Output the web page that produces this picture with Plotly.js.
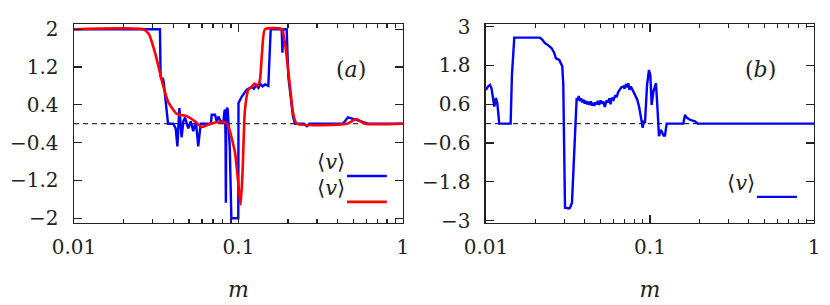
<!DOCTYPE html>
<html>
<head>
<meta charset="utf-8">
<script src="https://cdn.plot.ly/plotly-3.0.1.min.js"></script>
<style>html,body{margin:0;padding:0;background:#fff;}#chart{width:830px;height:305px;}</style>
</head>
<body>
<div id="chart"></div>
<script>
// ---- Panel (a): blue series ----
const aBlueM = [0.01,0.0333,0.0336,0.0342,0.0347,0.0352,0.0360,0.0368,0.0373,0.0401,0.0415,0.0425,0.0437,0.0451,0.0462,0.0473,0.0495,0.0512,0.0531,0.0551,0.0569,0.0589,0.0680,0.0687,0.0720,0.0737,0.0755,0.0772,0.0808,0.0820,0.0828,0.0834,0.0838,0.0842,0.0852,0.0860,0.0868,0.0885,0.0905,0.0997,0.1000,0.1045,0.1122,0.120,0.124,0.128,0.132,0.136,0.140,0.145,0.1518,0.1540,0.157,0.183,0.1850,0.1870,0.1963,0.2008,0.2145,0.2206,0.2500,0.2609,0.2700,0.4317,0.4630,0.5200,0.6128,1.0];
const aBlueV = [2,2,1.0,0.93,0.97,0.85,0.5,0.2,0,0,-0.1,-0.48,0.33,-0.29,0.05,0.13,-0.1,0.05,-0.16,0.05,-0.48,0,0,0.19,0.19,0.05,0.15,0.08,0.0,0.25,0.3,-0.3,-1.67,0.1,0.34,0.3,0.1,-0.5,-2.0,-2.0,0.44,0.57,0.72,0.78,0.74,0.82,0.76,0.84,0.79,0.83,0.8,1.4,2.0,2.0,1.5,2.0,2.0,1.0,0.15,0,0,-0.05,0,0,0.135,0.08,0,0];
// ---- Panel (a): red series ----
const aRedM = [0.01,0.0263,0.0285,0.0311,0.0349,0.0375,0.0421,0.0484,0.0544,0.0598,0.0653,0.0737,0.0828,0.0867,0.0952,0.1031,0.106,0.1085,0.1106,0.1147,0.120,0.125,0.130,0.1319,0.1351,0.139,0.1449,0.1831,0.1917,0.2056,0.2145,0.2259,0.4548,0.5232,0.5875,1.0];
const aRedV = [2,2,1.9,1.5,0.79,0.45,0.21,0.16,0.05,-0.07,-0.02,0.03,0.03,-0.05,-0.61,-1.71,-0.97,0.09,0.44,0.72,0.78,0.85,0.8,0.82,0.93,1.5,2.0,2.0,1.7,0.79,0.23,0,0,0.1,0,0];
// ---- Panel (b): blue series ----
const bBlueM = [0.01,0.0103,0.01058,0.0108,0.01108,0.01124,0.01151,0.01172,0.0119,0.01205,0.01414,0.01440,0.01488,0.02134,0.0220,0.02289,0.0240,0.02515,0.0260,0.02672,0.02799,0.0285,0.02920,0.02961,0.0300,0.03033,0.0320,0.03252,0.03345,0.0340,0.0350,0.03573,0.0362,0.0368,0.0374,0.0380,0.0386,0.0393,0.0400,0.0407,0.0414,0.0421,0.0428,0.0436,0.0444,0.0449,0.0457,0.0465,0.0473,0.0481,0.0490,0.0500,0.0510,0.0520,0.0530,0.0545,0.0555,0.0565,0.0575,0.0585,0.0600,0.0615,0.0627,0.0640,0.0655,0.0668,0.0688,0.0700,0.0715,0.0725,0.0737,0.0750,0.0765,0.0791,0.0810,0.0837,0.0860,0.0881,0.0890,0.0903,0.0915,0.0932,0.0960,0.0986,0.1005,0.1024,0.1050,0.1088,0.1110,0.1135,0.1160,0.1179,0.1210,0.1234,0.1264,0.1596,0.1635,0.1680,0.1753,0.1880,0.1954,1.0];
const bBlueV = [1.04,1.15,1.2,1.1,0.74,0.53,0.79,0.64,0.3,0,0,1.5,2.66,2.66,2.6,2.49,2.42,2.33,2.2,2.02,1.97,1.9,1.77,1.2,-1.0,-2.6,-2.62,-2.6,-2.45,-1.5,0,0.79,0.72,0.85,0.7,0.78,0.66,0.74,0.62,0.7,0.6,0.68,0.58,0.69,0.56,0.64,0.55,0.66,0.6,0.7,0.58,0.72,0.62,0.68,0.52,0.72,0.66,0.78,0.6,0.8,0.74,0.88,0.82,0.98,1.05,1.12,1.15,1.08,1.22,1.12,1.25,1.05,1.15,1.0,0.88,0.74,0.5,0.23,0.1,-0.13,0.05,0.02,1.2,1.66,1.5,0.58,1.0,1.25,0.5,-0.39,-0.2,-0.24,-0.37,-0.37,0,0,0.27,0.18,0.12,0.07,0,0];
// ---- reference (zero) line ----
const zeroM = [0.01, 1];
const zeroV = [0, 0];
// ---- ticks ----
const xTickVals = [0.01, 0.1, 1];
const xTickText = ['0.01', '0.1', '1'];
const xMinorVals = [0.02,0.03,0.04,0.05,0.06,0.07,0.08,0.09,0.2,0.3,0.4,0.5,0.6,0.7,0.8,0.9];
const aYTicks = [-2, -1.2, -0.4, 0.4, 1.2, 2];
const bYTicks = [-3, -1.8, -0.6, 0.6, 1.8, 3];
const legendLabel = '⟨<i>v</i>⟩';

const BLUE = '#0000ff', RED = '#ff0000';
const FONT = 'DejaVu Serif';
const INK = '#222';

const traces = [
  {x: zeroM, y: zeroV, xaxis: 'x', yaxis: 'y', mode: 'lines', line: {color: '#000', width: 1, dash: '5px,4px'}, hoverinfo: 'skip'},
  {x: aBlueM, y: aBlueV, xaxis: 'x', yaxis: 'y', mode: 'lines', line: {color: BLUE, width: 2.4}},
  {x: aRedM, y: aRedV, xaxis: 'x', yaxis: 'y', mode: 'lines', line: {color: RED, width: 2.6, shape: 'spline', smoothing: 0.5}},
  {x: zeroM, y: zeroV, xaxis: 'x2', yaxis: 'y2', mode: 'lines', line: {color: '#000', width: 1, dash: '5px,4px'}, hoverinfo: 'skip'},
  {x: bBlueM, y: bBlueV, xaxis: 'x2', yaxis: 'y2', mode: 'lines', line: {color: BLUE, width: 2.4}}
];

function xAxis(domain, anchor) {
  return {
    type: 'log', domain: domain, anchor: anchor, range: [-2, 0],
    tickmode: 'array', tickvals: xTickVals, ticktext: xTickText,
    ticks: 'inside', ticklen: 8, tickwidth: 1.2, tickcolor: INK,
    minor: {tickmode: 'array', tickvals: xMinorVals, ticks: 'inside', ticklen: 4, tickwidth: 1.1, tickcolor: INK},
    showline: true, linecolor: INK, linewidth: 1.5, mirror: 'ticks',
    showgrid: false, zeroline: false,
    tickfont: {family: FONT, size: 20, color: INK},
    ticklabelstandoff: 6,
    title: {text: '<i>m</i>', font: {family: FONT, size: 22, color: INK}, standoff: 23}
  };
}
function yAxis(domain, anchor, range, ticks) {
  return {
    domain: domain, anchor: anchor, range: range,
    tickmode: 'array', tickvals: ticks,
    ticks: 'inside', ticklen: 8, tickwidth: 1.2, tickcolor: INK,
    showline: true, linecolor: INK, linewidth: 1.5, mirror: 'ticks',
    showgrid: false, zeroline: false,
    tickfont: {family: FONT, size: 20, color: INK},
    ticklabelstandoff: 10
  };
}

const yDom = [0.2689, 0.9213];
const layout = {
  width: 830, height: 305,
  margin: {l: 0, r: 0, t: 0, b: 0},
  paper_bgcolor: '#fff', plot_bgcolor: '#fff',
  showlegend: false,
  font: {family: FONT, color: INK},
  xaxis: xAxis([0.0892, 0.4855], 'y'),
  yaxis: yAxis(yDom, 'x', [-2.1, 2.11], aYTicks),
  xaxis2: xAxis([0.5855, 0.9807], 'y2'),
  yaxis2: yAxis(yDom, 'x2', [-3.07, 3.08], bYTicks),
  annotations: [
    {xref: 'x domain', yref: 'y domain', x: 0.894, y: 0.844, text: '(<i>a</i>)', showarrow: false, font: {family: FONT, size: 22, color: INK}},
    {xref: 'x2 domain', yref: 'y2 domain', x: 0.89, y: 0.844, text: '(<i>b</i>)', showarrow: false, font: {family: FONT, size: 22, color: INK}},
    {xref: 'x domain', yref: 'y domain', x: 0.83, y: 0.236, xanchor: 'right', text: legendLabel, showarrow: false, font: {family: FONT, size: 21, color: INK}},
    {xref: 'x domain', yref: 'y domain', x: 0.83, y: 0.106, xanchor: 'right', text: legendLabel, showarrow: false, font: {family: FONT, size: 21, color: INK}},
    {xref: 'x2 domain', yref: 'y2 domain', x: 0.826, y: 0.131, xanchor: 'right', text: legendLabel, showarrow: false, font: {family: FONT, size: 21, color: INK}}
  ],
  shapes: [
    {type: 'line', xref: 'x domain', yref: 'y domain', x0: 0.83, x1: 0.951, y0: 0.236, y1: 0.236, line: {color: BLUE, width: 2.4}},
    {type: 'line', xref: 'x domain', yref: 'y domain', x0: 0.83, x1: 0.951, y0: 0.106, y1: 0.106, line: {color: RED, width: 2.6}},
    {type: 'line', xref: 'x2 domain', yref: 'y2 domain', x0: 0.826, x1: 0.948, y0: 0.131, y1: 0.131, line: {color: BLUE, width: 2.4}}
  ]
};

Plotly.newPlot('chart', traces, layout, {staticPlot: true, displayModeBar: false});
</script>
</body>
</html>
